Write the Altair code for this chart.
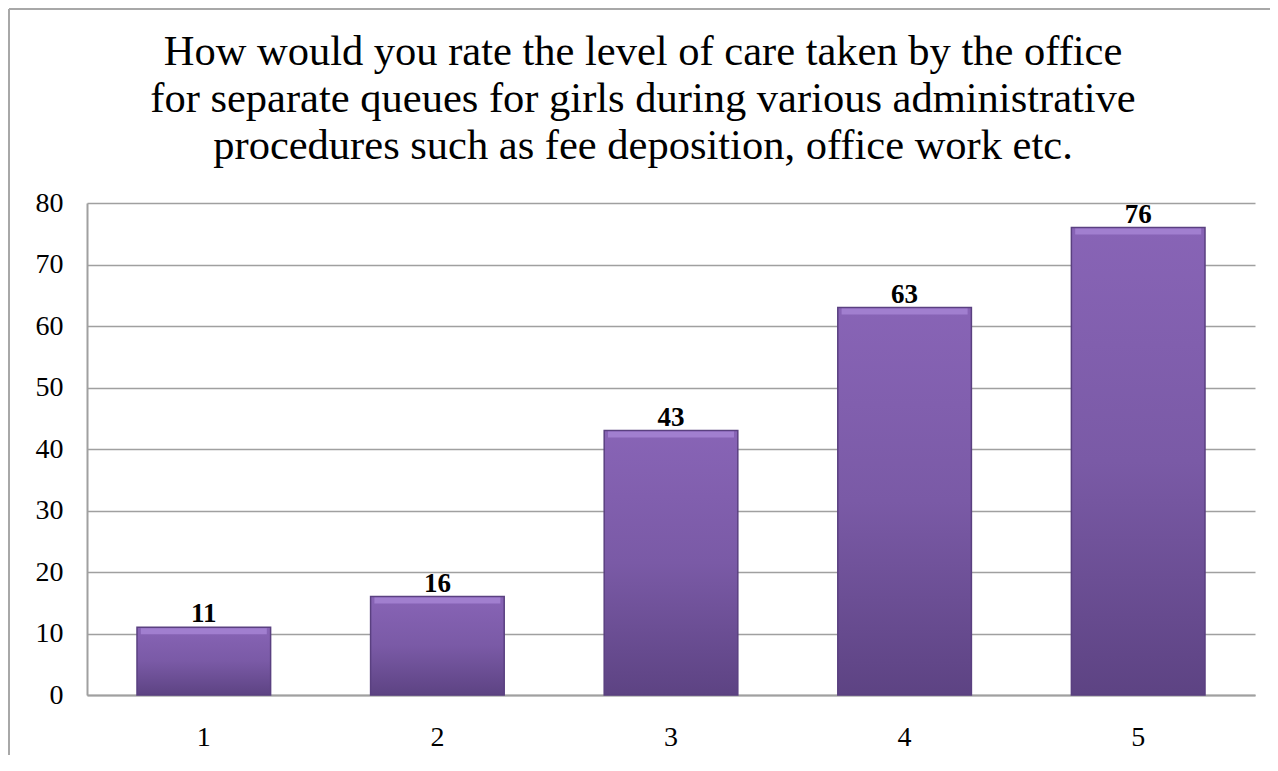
import altair as alt
import pandas as pd

categories = ["1", "2", "3", "4", "5"]
values = [11, 16, 43, 63, 76]
y_ticks = [0, 10, 20, 30, 40, 50, 60, 70, 80]
title_lines = [
    "How would you rate the level of care taken by the office",
    "for separate queues for girls during various administrative",
    "procedures such as fee deposition, office work etc.",
]

df = pd.DataFrame({"cat": categories, "val": values})

FONT = "Liberation Serif"

x_enc = alt.X(
    "cat:N",
    sort=categories,
    scale=alt.Scale(paddingInner=0.428, paddingOuter=0.214),
    axis=alt.Axis(
        title=None, labelAngle=0, ticks=False, labelPadding=28,
        labelFont=FONT, labelFontSize=28, labelColor="#000000",
        domainColor="#A0A0A0", domainWidth=2, grid=False,
    ),
)
y_enc = alt.Y(
    "val:Q",
    scale=alt.Scale(domain=[0, 80], nice=False),
    axis=alt.Axis(
        title=None, values=y_ticks, ticks=False, labelPadding=24,
        labelFont=FONT, labelFontSize=28, labelColor="#000000",
        domainColor="#A0A0A0", domainWidth=2,
        gridColor="#A0A0A0", gridWidth=1.5,
    ),
)

base = alt.Chart(df)

bars = base.mark_bar(
    fill=alt.Gradient(
        gradient="linear",
        stops=[
            alt.GradientStop(color="#8864B6", offset=0),
            alt.GradientStop(color="#7A5AA6", offset=0.5),
            alt.GradientStop(color="#5D4383", offset=1),
        ],
        x1=0, x2=0, y1=0, y2=1,
    ),
    stroke="#5A4080",
    strokeWidth=1.5,
).encode(x=x_enc, y=y_enc)

bevel = base.mark_tick(
    color="#A886D6", thickness=6, size=126, yOffset=4, opacity=0.8
).encode(x=alt.X("cat:N", sort=categories), y=alt.Y("val:Q"))

labels = base.mark_text(
    font=FONT, fontSize=27, fontWeight="bold", color="#000000",
    baseline="alphabetic", dy=-5,
).encode(x=alt.X("cat:N", sort=categories), y=alt.Y("val:Q"), text="val:Q")

# outer chart frame (left and top edges)
frame_left = alt.Chart(df).mark_rule(color="#A8A8A8", strokeWidth=1.5).encode(
    x=alt.value(-78), y=alt.value(-194), y2=alt.value(568)
)
frame_top = alt.Chart(df).mark_rule(color="#A8A8A8", strokeWidth=1.5).encode(
    x=alt.value(-78), x2=alt.value(1200), y=alt.value(-194)
)

chart = alt.layer(frame_left, frame_top, bars, bevel, labels).properties(
    width=1168,
    height=492,
    title=alt.TitleParams(
        text=title_lines,
        font=FONT,
        fontSize=42.5,
        fontWeight="normal",
        color="#000000",
        lineHeight=47,
        anchor="middle",
        frame="group",
        dx=-28,
        dy=186,
        offset=27,
    ),
    padding={"left": 79, "top": 195, "right": 15, "bottom": 60},
    autosize=alt.AutoSizeParams(type="none"),
).configure(background="white").configure_view(stroke=None)

chart.save("out.html", embed_options={"renderer": "svg", "actions": False})
